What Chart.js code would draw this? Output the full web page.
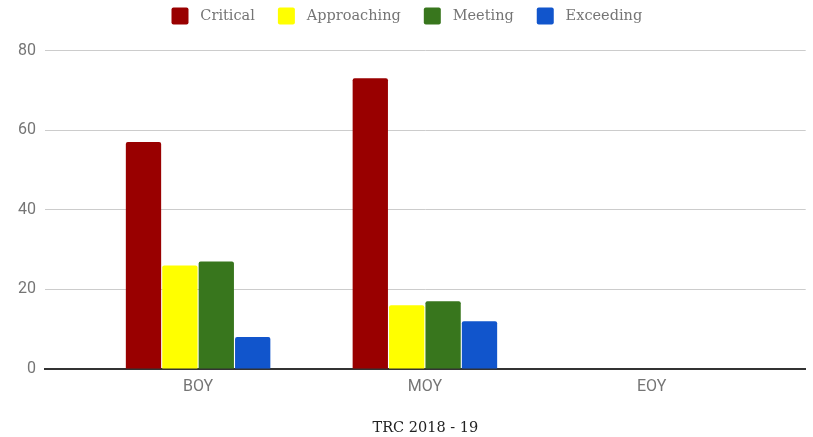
<!DOCTYPE html>
<html>
<head>
<meta charset="utf-8">
<script src="https://cdn.jsdelivr.net/npm/chart.js@4/dist/chart.umd.min.js"></script>
<style>
  html, body { margin: 0; padding: 0; background: #fff; }
  #wrap { width: 813px; height: 437px; }
</style>
</head>
<body>
<div id="wrap"><canvas id="trc-chart"></canvas></div>
<script>
// データ
const categories = ['BOY', 'MOY', 'EOY'];
const critical = [57, 73, null];
const approaching = [26, 16, null];
const meeting = [27, 17, null];
const exceeding = [8, 12, null];
const yTicks = [0, 20, 40, 60, 80];
const chartTitle = 'TRC 2018 - 19';

// 凡例の下に少し余白を足す
const legendGap = {
    id: 'legendGap',
    beforeInit(chart) {
        const origFit = chart.legend.fit;
        chart.legend.fit = function() {
            origFit.bind(chart.legend)();
            this.height += 16;
        };
    }
};

function makeSet(label, data, color) {
    return {
        label: ' ' + label,
        data: data,
        backgroundColor: color,
        borderWidth: 0,
        borderRadius: 2,
        borderSkipped: 'bottom',
        barPercentage: 0.97,
        categoryPercentage: 0.642
    };
}

const ctx = document.getElementById('trc-chart');
new Chart(ctx, {
    type: 'bar',
    data: {
        labels: categories.map((c, i) => i),
        datasets: [
            makeSet('Critical', critical, '#990000'),
            makeSet('Approaching', approaching, '#ffff00'),
            makeSet('Meeting', meeting, '#38761d'),
            makeSet('Exceeding', exceeding, '#1155cc')
        ]
    },
    plugins: [legendGap],
    options: {
        responsive: true,
        maintainAspectRatio: false,
        animation: false,
        layout: {
            padding: { top: -15.5, left: 8, right: 7.3, bottom: 0 }
        },
        plugins: {
            legend: {
                position: 'top',
                align: 'center',
                labels: {
                    boxWidth: 17,
                    boxHeight: 17,
                    padding: 23,
                    color: '#757575',
                    font: { family: 'DejaVu Serif', size: 14.5 },
                    generateLabels(chart) {
                        const items = Chart.defaults.plugins.legend.labels.generateLabels(chart);
                        items.forEach(it => { it.borderRadius = 2; it.lineWidth = 0; });
                        return items;
                    }
                }
            },
            tooltip: { enabled: false }
        },
        scales: {
            x: {
                type: 'linear',
                offset: false,
                min: -0.675,
                max: 2.679,
                grid: { display: false, drawTicks: false, offset: false },
                border: { display: true, color: '#333', width: 2 },
                ticks: {
                    stepSize: 1,
                    includeBounds: false,
                    padding: 8,
                    color: '#757575',
                    font: { family: 'Roboto', size: 16 },
                    callback: v => categories[v] ?? ''
                },
                title: {
                    display: true,
                    text: chartTitle,
                    color: '#222',
                    font: { family: 'DejaVu Serif', size: 14.5, weight: 'normal' },
                    padding: { top: 15.5, bottom: 0 }
                }
            },
            y: {
                min: yTicks[0],
                max: yTicks[yTicks.length - 1],
                afterFit(scale) { scale.width = 37; },
                afterBuildTicks(scale) {
                    scale.ticks = yTicks.map(v => ({ value: v }));
                },
                grid: {
                    color: c => c.tick && c.tick.value === 0 ? 'rgba(0,0,0,0)' : '#cccccc',
                    drawTicks: false
                },
                border: { display: false },
                ticks: {
                    padding: 9,
                    color: '#757575',
                    font: { family: 'Roboto', size: 16 }
                }
            }
        }
    }
});
</script>
</body>
</html>
